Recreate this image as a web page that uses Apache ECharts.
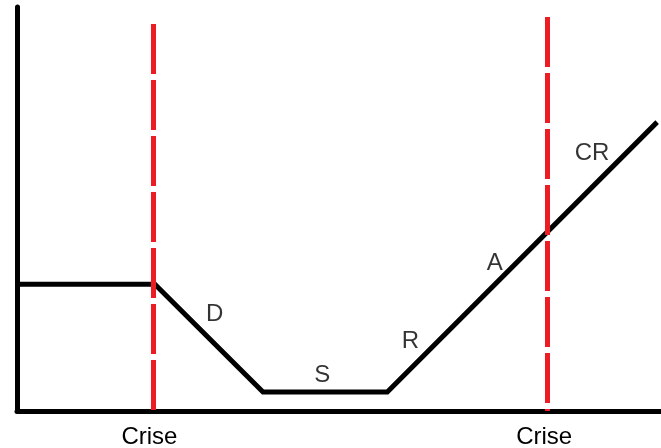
<!DOCTYPE html>
<html>
<head>
<meta charset="utf-8">
<script src="https://cdn.jsdelivr.net/npm/echarts@6/dist/echarts.min.js"></script>
<style>html,body{margin:0;padding:0;background:#fff}#c{width:661px;height:448px}</style>
</head>
<body>
<div id="c"></div>
<script>
// Economic cycle curve (schematic units)
const cycleX = [0, 21.4, 38.2, 57.5, 99.4];
const cycleY = [31.4, 31.4, 4.7, 4.7, 71.5];
// Crisis markers
const crisisX = [21.1, 82.4];
const crisisTop = [95.8, 97.5];
const crisisLabel = 'Crise';
// Phase labels
const phaseNames = ['D', 'S', 'R', 'A', 'CR'];
const phaseX = [30.7, 47.4, 61.1, 74.2, 89.3];
const phaseY = [23.8, 8.7, 17.3, 36.6, 63.8];

const font = 'Liberation Sans, Arial, sans-serif';
const chart = echarts.init(document.getElementById('c'));
chart.setOption({
  animation: false,
  grid: {left: 17, right: 0, top: 7, bottom: 37, outerBoundsMode: 'none', containLabel: false},
  xAxis: {
    type: 'value', min: 0, max: 100,
    splitLine: {show: false},
    axisTick: {show: false},
    axisLine: {show: true, lineStyle: {color: '#000', width: 5}},
    axisLabel: {
      show: true, customValues: crisisX, formatter: () => crisisLabel,
      color: '#000', fontSize: 24, fontFamily: font, margin: 14,
      padding: [0, 7, 0, 0]
    }
  },
  yAxis: {
    type: 'value', min: 0, max: 100,
    splitLine: {show: false},
    axisTick: {show: false},
    axisLabel: {show: false},
    axisLine: {show: true, lineStyle: {color: '#000', width: 5}}
  },
  series: [
    {
      type: 'line',
      data: cycleX.map((x, i) => [x, cycleY[i]]),
      symbol: 'none',
      lineStyle: {color: '#000', width: 5, join: 'miter'},
      z: 3,
      markLine: {
        symbol: 'none',
        silent: true,
        label: {show: false},
        lineStyle: {color: '#ed1c24', width: 5, type: [50, 6], cap: 'butt'},
        data: crisisX.map((x, i) => [{coord: [x, crisisTop[i]]}, {coord: [x, 0]}])
      }
    },
    {
      type: 'scatter',
      data: phaseNames.map((n, i) => [phaseX[i], phaseY[i], n]),
      symbolSize: 0,
      label: {
        show: true, position: 'inside',
        formatter: p => p.value[2],
        color: '#000', fontSize: 24, fontFamily: font
      },
      z: 4
    }
  ]
});
</script>
</body>
</html>
